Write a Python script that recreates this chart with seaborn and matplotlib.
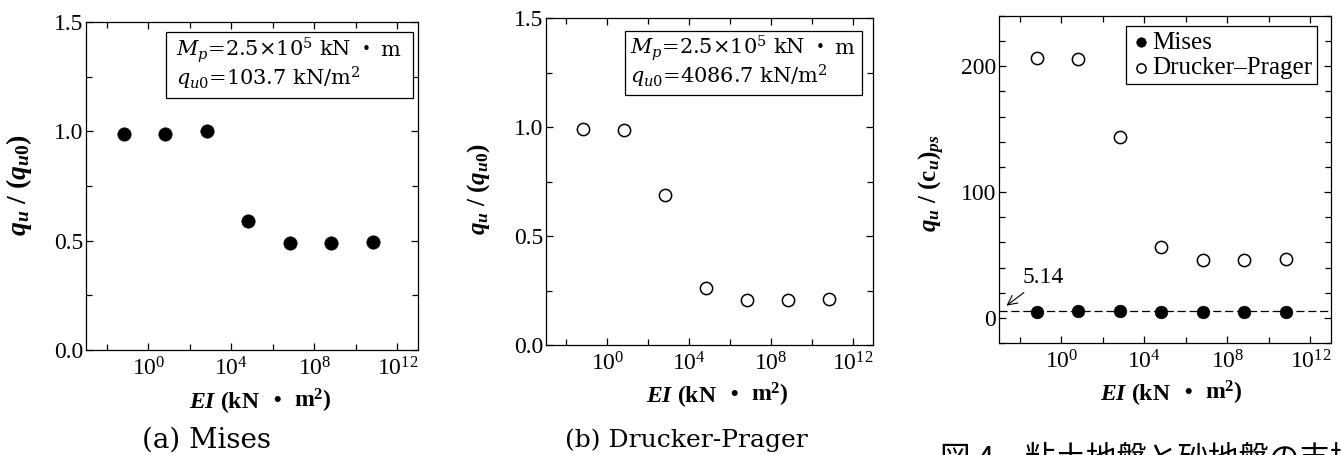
import numpy as np
import pandas as pd
import matplotlib
matplotlib.use("Agg")
import matplotlib.pyplot as plt
import matplotlib.transforms as mtransforms
from matplotlib.patches import Rectangle
from matplotlib.ticker import FixedLocator, FuncFormatter, MultipleLocator, NullFormatter
import seaborn as sns

# ---------------- data ----------------
ei = [6.7e-2, 6.7e0, 6.7e2, 6.7e4, 6.7e6, 6.7e8, 6.7e10]          # EI (kN·m2)
mises_ratio = [0.99, 0.99, 1.00, 0.59, 0.49, 0.49, 0.495]          # (a) qu/qu0
dp_ratio = [0.99, 0.985, 0.69, 0.26, 0.207, 0.207, 0.21]           # (b) qu/qu0
mises_cu = [4.9, 5.1, 5.6, 4.5, 4.4, 4.7, 4.7]                     # (c) Mises
dp_cu = [207.0, 206.0, 144.0, 56.0, 46.0, 46.0, 46.5]              # (c) Drucker-Prager
x_major = [1e0, 1e4, 1e8, 1e12]
x_minor = [1e-2, 1e2, 1e6, 1e10]
ref_line = 5.14
series_names = ["Mises", "Drucker\u2013Prager"]
captions = ["(a) Mises", "(b) Drucker-Prager", "図 4\u3000粘土地盤と砂地盤の支持力"]
box_a = [r"$M_p$=2.5×10$^5$ kN", "・", "m", r"$q_{u0}$=103.7 kN/m$^2$"]
box_b = [r"$M_p$=2.5×10$^5$ kN", "・", "m", r"$q_{u0}$=4086.7 kN/m$^2$"]
ylabel_ab = r"$\mathbfit{q}_{\mathbfit{u}}$ / ($\mathbfit{q}_{\mathbfit{u}\mathbf{0}}$)"
ylabel_c = r"$\mathbfit{q}_{\mathbfit{u}}$ / $\mathbf{(c}_{\mathbfit{u}}\mathbf{)}_{\mathbfit{ps}}$"
xlabel_parts = [r"$\mathbfit{EI}$ (kN", "・", r"$\mathbf{m}^{\mathbf{2}}$)"]

# ---------------- style ----------------
W, H, DPI = 1341, 455, 100
sns.set_theme(style="ticks")
plt.rcParams.update({
    "font.family": ["Liberation Serif", "Noto Sans CJK JP", "DejaVu Sans"],
    "mathtext.fontset": "custom",
    "mathtext.rm": "Liberation Serif",
    "mathtext.it": "Liberation Serif:italic",
    "mathtext.bf": "Liberation Serif:bold",
    "mathtext.bfit": "Liberation Serif:italic:bold",
    "axes.linewidth": 0.9,
    "axes.edgecolor": "black",
    "text.color": "black",
    "axes.labelcolor": "black",
})

fig = plt.figure(figsize=(W / DPI, H / DPI), dpi=DPI)
fig.patch.set_facecolor("white")


def px_axes(l, t, r, b):
    return fig.add_axes([l / W, 1 - b / H, (r - l) / W, (b - t) / H])


def style(ax, ylim, ymaj, ymin, yfmt):
    ax.set_xscale("log")
    ax.set_xlim(1e-3, 1e13)
    ax.xaxis.set_major_locator(FixedLocator(x_major))
    ax.xaxis.set_minor_locator(FixedLocator(x_minor))
    ax.xaxis.set_major_formatter(FuncFormatter(lambda v, p: r"$10^{%d}$" % round(np.log10(v))))
    ax.xaxis.set_minor_formatter(NullFormatter())
    ax.set_ylim(*ylim)
    ax.yaxis.set_major_locator(MultipleLocator(ymaj))
    ax.yaxis.set_minor_locator(MultipleLocator(ymin))
    ax.yaxis.set_major_formatter(FuncFormatter(yfmt))
    ax.tick_params(which="both", direction="in", top=True, right=True,
                   width=0.9, color="black", labelcolor="black")
    ax.tick_params(which="major", length=5)
    ax.tick_params(which="minor", length=4)
    ax.tick_params(axis="x", which="major", labelsize=17, pad=5)
    ax.tick_params(axis="y", which="major", labelsize=17, pad=2)
    for sp in ax.spines.values():
        sp.set_visible(True)
        sp.set_color("black")
        sp.set_linewidth(0.9)
    ax.set_facecolor("white")


def rich(pieces, x_px, y_px, ha="left"):
    """pieces: list of (text, gap_before_px, kwargs) drawn on one baseline."""
    renderer = fig.canvas.get_renderer()
    x, y = x_px / W, 1 - y_px / H
    arts, sizes = [], []
    for s, gap, kw in pieces:
        t = fig.text(x, y, s, ha="left", va="baseline", **kw)
        arts.append(t)
        sizes.append((gap, t.get_window_extent(renderer).width))
    total = sum(g + w for g, w in sizes)
    off = -total / 2 if ha == "center" else 0.0
    for t, (g, w) in zip(arts, sizes):
        off += g
        t.set_transform(fig.transFigure +
                        mtransforms.ScaledTranslation(off / DPI, 0, fig.dpi_scale_trans))
        off += w


fmt1 = lambda v, p: f"{v:.1f}"
fmt0 = lambda v, p: f"{v:.0f}"

axa = px_axes(86, 22, 418, 350)
axb = px_axes(546, 18, 873, 345)
axc = px_axes(999, 16, 1331, 343)
style(axa, (0, 1.5), 0.5, 0.25, fmt1)
style(axb, (0, 1.5), 0.5, 0.25, fmt1)
style(axc, (-20, 240), 100, 20, fmt0)

# ---------------- marks ----------------
sns.scatterplot(x=ei, y=mises_ratio, ax=axa, color="black", s=92,
                edgecolor="black", linewidth=0.5, zorder=3, legend=False)
sns.scatterplot(x=ei, y=dp_ratio, ax=axb, color="white", s=78,
                edgecolor="black", linewidth=1.1, zorder=3, legend=False)

axc.axhline(ref_line, color="black", lw=0.9, ls=(0, (6.5, 3)), zorder=2)
sns.scatterplot(x=ei, y=mises_cu, ax=axc, color="black", s=82,
                edgecolor="black", linewidth=0.5, zorder=3, label=series_names[0])
sns.scatterplot(x=ei, y=dp_cu, ax=axc, color="white", s=78,
                edgecolor="black", linewidth=1.1, zorder=3, label=series_names[1])
leg = axc.legend(loc="upper right", bbox_to_anchor=(0.958, 0.969), borderaxespad=0,
                 frameon=True, fancybox=False, edgecolor="black", framealpha=1,
                 fontsize=18, handletextpad=0.05, handlelength=0.8, labelspacing=0.12,
                 borderpad=0.2, markerscale=0.75)
leg.get_frame().set_linewidth(0.9)

axc.annotate(f"{ref_line:.2f}", xy=(10 ** -2.64, 9.7), xytext=(10 ** -0.86, 31.7),
             ha="center", va="center", fontsize=17,
             arrowprops=dict(arrowstyle="->", lw=0.8, color="black", shrinkA=1, shrinkB=0))

for ax in (axa, axb, axc):
    ax.set_xlabel("")

# ---------------- y labels ----------------
axa.set_ylabel(ylabel_ab, fontsize=20, fontweight="bold")
axa.yaxis.set_label_coords((34 - 86) / 332, 0.503)
axb.set_ylabel(ylabel_ab, fontsize=18, fontweight="bold")
axb.yaxis.set_label_coords((492 - 546) / 327, 0.476)
axc.set_ylabel(ylabel_c, fontsize=18, fontweight="bold")
axc.yaxis.set_label_coords((947 - 999) / 332, 0.489)

# ---------------- parameter boxes ----------------
def param_box(ax, l, t, r, b, axl, axt, axr, axb_, lines, tx, by1, by2):
    aw, ah = axr - axl, axb_ - axt
    ax.add_patch(Rectangle(((l - axl) / aw, (axb_ - b) / ah), (r - l) / aw, (b - t) / ah,
                           transform=ax.transAxes, fc="white", ec="black", lw=0.9, zorder=4))
    base = dict(fontsize=15, family="DejaVu Serif", math_fontfamily="dejavuserif", zorder=5)
    rich([(lines[0], 0, base),
          (lines[1], 5, dict(fontsize=15, family=["Noto Sans CJK JP"], zorder=5)),
          (lines[2], 3, base)], tx, by1)
    rich([(lines[3], 0, base)], tx, by2)


param_box(axa, 166, 32, 413, 98, 86, 22, 418, 350, box_a, 176, 56, 86)
param_box(axb, 625, 31, 862, 95, 546, 18, 873, 345, box_b, 630, 54, 84)

# ---------------- x labels ----------------
xl_kw = dict(fontsize=17, fontweight="bold")
xl_pieces = [(xlabel_parts[0], 0, xl_kw),
             (xlabel_parts[1], 6, dict(fontsize=17, fontweight="bold", family=["Noto Sans CJK JP"])),
             (xlabel_parts[2], 5, xl_kw)]
rich(xl_pieces, 260, 408, ha="center")
rich(xl_pieces, 717, 402, ha="center")
rich(xl_pieces, 1171, 400, ha="center")

# ---------------- captions ----------------
fig.text(207 / W, 1 - 440 / H, captions[0], ha="center", va="center",
         family="DejaVu Serif", fontsize=20)
fig.text(686 / W, 1 - 440 / H, captions[1], ha="center", va="center",
         family="DejaVu Serif", fontsize=18)
fig.text(940 / W, 1 - 468 / H, captions[2], ha="left", va="baseline",
         family=["Noto Sans CJK JP"], fontsize=22)

fig.savefig("out.png", dpi=DPI, facecolor="white")
